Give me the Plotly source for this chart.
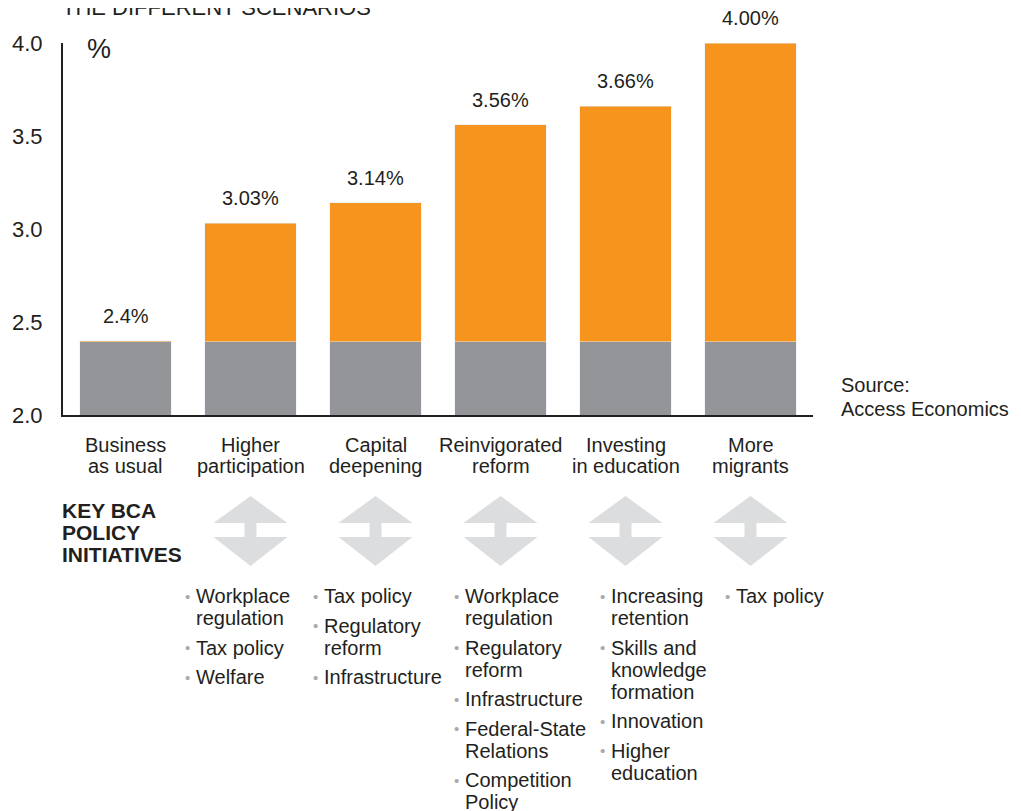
import plotly.graph_objects as go

# ---- data ----
scenarios = [["Business", "as usual"], ["Higher", "participation"], ["Capital", "deepening"],
             ["Reinvigorated", "reform"], ["Investing", "in education"], ["More", "migrants"]]
base_values = [2.395, 2.395, 2.395, 2.395, 2.395, 2.395]
total_values = [2.40, 3.03, 3.14, 3.56, 3.66, 4.00]
value_labels = ["2.4%", "3.03%", "3.14%", "3.56%", "3.66%", "4.00%"]
y_tickvals = [2.0, 2.5, 3.0, 3.5, 4.0]
y_ticktext = ["2.0", "2.5", "3.0", "3.5", "4.0"]

# policy initiatives per scenario (index into scenarios), each item as wrapped lines
policies = {
    1: [["Workplace", "regulation"], ["Tax policy"], ["Welfare"]],
    2: [["Tax policy"], ["Regulatory", "reform"], ["Infrastructure"]],
    3: [["Workplace", "regulation"], ["Regulatory", "reform"], ["Infrastructure"],
        ["Federal-State", "Relations"], ["Competition", "Policy"]],
    4: [["Increasing", "retention"], ["Skills and", "knowledge", "formation"], ["Innovation"],
        ["Higher", "education"]],
    5: [["Tax policy"]],
}
key_title = ["KEY BCA", "POLICY", "INITIATIVES"]

# ---- styling / layout constants ----
OFF = 8  # page body margin
W, H = 1021 - OFF, 811 - OFF
PLOT_LEFT, PLOT_RIGHT, PLOT_TOP, PLOT_BOTTOM = 63 - OFF, 813 - OFF, 43 - OFF, 415 - OFF
L, R, T, B = PLOT_LEFT, W - PLOT_RIGHT, PLOT_TOP, H - PLOT_BOTTOM
PLOT_H = PLOT_BOTTOM - PLOT_TOP
PLOT_W = PLOT_RIGHT - PLOT_LEFT
GREY = "#939598"
ORANGE = "#F7941D"
ARROW = "#DCDDDE"
DOT = "#A7A9AC"
TXT = "#231F20"
FONT = "Liberation Sans, Arial, Helvetica, sans-serif"
FS = 20


def yp(py):  # page pixel -> paper
    return (PLOT_BOTTOM - (py - OFF)) / PLOT_H


def xp(px):
    return ((px - OFF) - PLOT_LEFT) / PLOT_W


x = list(range(len(scenarios)))
orange = [t - b for t, b in zip(total_values, base_values)]

fig = go.Figure()
fig.add_trace(go.Bar(x=x, y=base_values, marker_color=GREY, width=0.73, hoverinfo="skip"))
fig.add_trace(go.Bar(x=x, y=orange, marker_color=ORANGE, width=0.73, hoverinfo="skip"))

ann = []
# value labels
for i, (t, lab) in enumerate(zip(total_values, value_labels)):
    ann.append(dict(x=i, y=t, xref="x", yref="y", text=lab, showarrow=False,
                    yanchor="middle", yshift=25, font=dict(size=FS, color=TXT)))
# category labels
for i, lines in enumerate(scenarios):
    for j, line in enumerate(lines):
        ann.append(dict(x=i, y=yp(445 + 21 * j), xref="x", yref="paper", text=line,
                        showarrow=False, yanchor="middle", font=dict(size=FS, color=TXT)))
# % sign
ann.append(dict(x=xp(85), y=yp(49), xref="paper", yref="paper", text="%", showarrow=False,
                xanchor="left", yanchor="middle", font=dict(size=27, color=TXT)))
# cut-off title (only its lower part shows at the top edge)
ann.append(dict(x=xp(60), y=yp(7), xref="paper", yref="paper", text="THE DIFFERENT SCENARIOS",
                showarrow=False, xanchor="left", yanchor="middle", font=dict(size=22, color=TXT)))
# source
for j, line in enumerate(["Source:", "Access Economics"]):
    ann.append(dict(x=xp(839), y=yp(385 + 24 * j), xref="paper", yref="paper", text=line,
                    showarrow=False, xanchor="left", yanchor="middle", font=dict(size=FS, color=TXT)))
# key title
for j, line in enumerate(key_title):
    ann.append(dict(x=xp(60), y=yp(510 + 22 * j), xref="paper", yref="paper", text="<b>%s</b>" % line,
                    showarrow=False, xanchor="left", yanchor="middle",
                    font=dict(size=21, color=TXT)))

# bullet lists
text_x = {1: 196, 2: 324, 3: 465, 4: 611, 5: 736}
for col, items in policies.items():
    py = 596
    tx = text_x[col]
    for item in items:
        ann.append(dict(x=xp(tx - 4), y=yp(py), xref="paper", yref="paper", text="•",
                        showarrow=False, xanchor="right", yanchor="middle",
                        font=dict(size=15, color=DOT)))
        for k, line in enumerate(item):
            ann.append(dict(x=xp(tx - 2), y=yp(py), xref="paper", yref="paper", text=line,
                            showarrow=False, xanchor="left", yanchor="middle",
                            font=dict(size=FS, color=TXT)))
            py += 22
        py += 7.5

# arrows under scenarios with policies
shapes = []
hw = 37 / (PLOT_W / len(scenarios))
sw = 6 / (PLOT_W / len(scenarios))
for col in policies:
    c = col
    y_top, y_b1, y_b2, y_bot = yp(496), yp(523), yp(537), yp(566)
    path = (f"M{c - hw},{y_b1} L{c},{y_top} L{c + hw},{y_b1} Z "
            f"M{c - sw},{y_b1} L{c + sw},{y_b1} L{c + sw},{y_b2} L{c - sw},{y_b2} Z "
            f"M{c - hw},{y_b2} L{c + hw},{y_b2} L{c},{y_bot} Z")
    shapes.append(dict(type="path", xref="x", yref="paper", path=path,
                       fillcolor=ARROW, line=dict(width=0), layer="above"))

fig.update_layout(
    width=W, height=H, margin=dict(l=L, r=R, t=T, b=B, pad=0, autoexpand=False),
    barmode="stack", showlegend=False, plot_bgcolor="white", paper_bgcolor="white",
    font=dict(family=FONT, size=FS, color=TXT),
    annotations=ann, shapes=shapes,
    xaxis=dict(range=[-0.5, 5.5], showline=True, linecolor=TXT, linewidth=2, automargin=False,
               showticklabels=False, showgrid=False, zeroline=False, ticks=""),
    yaxis=dict(range=[2.0, 4.0], tickvals=y_tickvals, ticktext=y_ticktext, showline=True,
               linecolor=TXT, linewidth=2, showgrid=False, zeroline=False, ticks="outside",
               automargin=False,
               ticklen=14, tickcolor="rgba(0,0,0,0)", tickfont=dict(size=22, color=TXT)),
)

fig.write_html("out.html")
